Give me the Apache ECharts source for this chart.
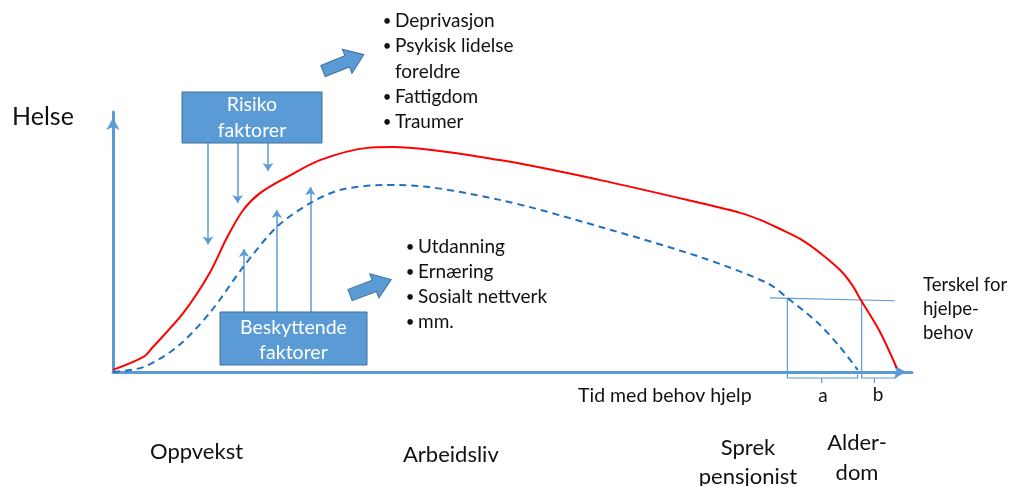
<!DOCTYPE html>
<html>
<head>
<meta charset="utf-8">
<script src="https://cdn.jsdelivr.net/npm/echarts@6/dist/echarts.min.js"></script>
<style>
html,body{margin:0;padding:0;background:#fff;}
#chart{width:1013px;height:486px;}
</style>
</head>
<body>
<div id="chart"></div>
<script>
// Health over life course (x: life time 0..100, y: health 0..100)
const healthyCurve = [
  [0,0.8],[3.8,5.8],[5.0,9.6],[8.8,22.7],[12.1,38.1],[14.3,51.9],[16.3,62.3],[18.4,68.8],
  [21.8,75.0],[25.9,81.5],[31.8,86.2],[35.0,86.5],[48.4,81.5],[61.0,73.8],[73.5,65.0],
  [78.5,61.2],[81.0,58.5],[83.5,55.0],[86.0,51.2],[88.5,45.8],[91.0,39.2],[92.5,33.5],[93.6,27.7],
  [96.0,15.4],[98.1,1.5]
];
const riskCurve = [
  [0,0],[3.8,1.9],[8.0,9.6],[12.1,22.7],[16.3,40.4],[20.5,55.8],[24.7,65.0],[28.4,70.0],
  [33.8,71.9],[35.9,71.9],[48.4,66.2],[61.0,55.8],[73.5,44.2],[81.9,34.2],[84.4,28.5],
  [88.1,19.2],[91.0,9.6],[93.2,0.8]
];
const thresholdLine = [[82.2,28.5],[97.9,27.4]];
// Time needing help: a = dashed curve below threshold, b = solid curve below threshold
const helpBrackets = [
  [[84.4,28.5],[84.4,-2.3],[93.2,-2.3],[93.2,-1.0]],
  [[88.7,-2.3],[88.7,-4.2]],
  [[93.7,27.8],[93.7,-2.3],[98.0,-2.3],[98.0,-0.2]],
  [[95.3,-2.3],[95.3,-4.2]]
];
const riskArrows = [
  [[11.9,88.1],[11.9,49.0]],
  [[15.6,88.1],[15.6,65.0]],
  [[19.4,88.1],[19.4,77.3]]
];
const protectArrows = [
  [[16.4,23.1],[16.4,47.3]],
  [[20.5,23.1],[20.5,62.3]],
  [[24.7,23.1],[24.7,71.1]]
];
const riskFactors = ['Deprivasjon','Psykisk lidelse','foreldre','Fattigdom','Traumer'];
const protectFactors = ['Utdanning','Ernæring','Sosialt nettverk','mm.'];
const phaseLabels = ['Oppvekst','Arbeidsliv','Sprek\npensjonist','Alder-\ndom'];

const AX = '#5b9bd5';
const FONT = 'Lato, "Open Sans", sans-serif';
const chart = echarts.init(document.getElementById('chart'), null, {renderer:'canvas'});

function txt(x, y, s, size, opts) {
  return {
    type:'text', x:x, y:y, z:10,
    style:Object.assign({text:s, fill:'#111', font:size+'px '+FONT, textVerticalAlign:'middle', textAlign:'left'}, opts||{})
  };
}
function bulletList(x, y0, items, step, indentIdx) {
  const out = [];
  items.forEach((s,i) => {
    const y = y0 + i*step;
    if (indentIdx.indexOf(i) < 0) out.push(txt(x-8, y, '•', 15, {textAlign:'center'}));
    out.push(txt(x, y, s, 19));
  });
  return out;
}
function blockArrow(cx, cy, rot) {
  return {
    type:'polygon', x:cx, y:cy, rotation:rot, z:10,
    shape:{points:[[0,-6],[26,-6],[26,-13],[44,0],[26,13],[26,6],[0,6]]},
    style:{fill:'#5b9bd5', stroke:'#41719c', lineWidth:1}
  };
}
function box(x,y,w,h,lines,cy){
  const g = [{type:'rect', z:9, shape:{x:x,y:y,width:w,height:h}, style:{fill:'#5b9bd5', stroke:'#41719c', lineWidth:1}}];
  lines.forEach((s,i)=> g.push(txt(x+w/2, cy[i], s, 19.5, {fill:'#fff', textAlign:'center'})));
  return g;
}

let graphics = [];
graphics.push(txt(12, 117, 'Helse', 25));
graphics = graphics.concat(bulletList(395, 21, riskFactors, 25.3, [2]));
graphics = graphics.concat(bulletList(418, 247, protectFactors, 25, []));
graphics.push(txt(923, 285, 'Terskel for', 18.5));
graphics.push(txt(923, 309, 'hjelpe-', 18.5));
graphics.push(txt(923, 333, 'behov', 18.5));
graphics.push(txt(578, 396, 'Tid med behov hjelp', 19.5));
graphics.push(txt(823, 396, 'a', 19, {textAlign:'center'}));
graphics.push(txt(878, 395, 'b', 19, {textAlign:'center'}));
graphics.push(txt(150, 452, phaseLabels[0], 22));
graphics.push(txt(403, 455, phaseLabels[1], 22));
graphics.push(txt(748, 448, phaseLabels[2].split('\n')[0], 22, {textAlign:'center'}));
graphics.push(txt(748, 477, phaseLabels[2].split('\n')[1], 22, {textAlign:'center'}));
graphics.push(txt(857, 443, phaseLabels[3].split('\n')[0], 22, {textAlign:'center'}));
graphics.push(txt(857, 473, phaseLabels[3].split('\n')[1], 22, {textAlign:'center'}));
graphics = graphics.concat(box(182, 92, 140, 51, ['Risiko','faktorer'], [105,131]));
graphics = graphics.concat(box(220, 312, 147, 53, ['Beskyttende','faktorer'], [328,353]));
graphics.push(blockArrow(323, 71, 0.38));
graphics.push(blockArrow(350, 295, 0.36));

function arrowLines(data){
  return {
    type:'lines', coordinateSystem:'cartesian2d', clip:false, z:3,
    symbol:['none','arrow'], symbolSize:8,
    lineStyle:{color:AX, width:1.5, opacity:1, curveness:0},
    data:data.map(c=>({coords:c}))
  };
}

chart.setOption({
  animation:false,
  backgroundColor:'#fff',
  grid:{left:113, right:101, top:112, bottom:114},
  xAxis:{type:'value', min:0, max:100, axisLine:{show:true, onZero:false, symbol:['none','arrow'], symbolSize:[10,12], symbolOffset:[0,-6], lineStyle:{color:AX, width:3}}, axisTick:{show:false}, axisLabel:{show:false}, splitLine:{show:false}},
  yAxis:{type:'value', min:0, max:100, axisLine:{show:true, onZero:false, symbol:['none','arrow'], symbolSize:[10,12], symbolOffset:[0,-6], lineStyle:{color:AX, width:3}}, axisTick:{show:false}, axisLabel:{show:false}, splitLine:{show:false}},
  series:[
    {type:'line', data:healthyCurve, smooth:0.3, symbol:'none', clip:false, z:5, lineStyle:{color:'#ff0000', width:2}},
    {type:'line', data:riskCurve, smooth:0.3, symbol:'none', clip:false, z:5, lineStyle:{color:'#1f70c1', width:2, type:[7,5]}},
    {type:'line', data:thresholdLine, symbol:'none', clip:false, z:4, lineStyle:{color:AX, width:1.2}},
    {type:'lines', coordinateSystem:'cartesian2d', polyline:true, clip:false, z:4, lineStyle:{color:AX, width:1.2, opacity:1}, data:helpBrackets.map(c=>({coords:c}))},
    arrowLines(riskArrows),
    arrowLines(protectArrows)
  ],
  graphic:graphics
});
</script>
</body>
</html>
